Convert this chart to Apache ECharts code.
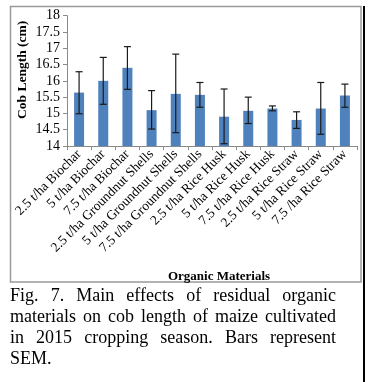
<!DOCTYPE html>
<html><head><meta charset="utf-8">
<script src="https://cdn.jsdelivr.net/npm/echarts@6/dist/echarts.min.js"></script>
<style>
html,body{margin:0;padding:0;background:#fff;}
#wrap{position:relative;width:374px;height:382px;overflow:hidden;}
#chart{position:absolute;left:0;top:0;width:374px;height:382px;}
#cap{position:absolute;left:10px;top:285px;width:326px;font-family:"Liberation Serif","Times New Roman",serif;font-size:18px;line-height:21px;text-align:justify;color:#000;}
#vline{position:absolute;left:363px;top:6px;width:2px;height:376px;background:#000;}
</style></head>
<body><div id="wrap"><div id="chart"></div><div id="cap">Fig. 7. Main effects of residual organic materials on cob length of maize cultivated in 2015 cropping season. Bars represent SEM.</div><div id="vline"></div></div>
<script>
const categories = ["2.5 t/ha Biochar","5 t/ha Biochar","7.5 t/ha Biochar","2.5 t/ha Groundnut Shells","5 t/ha Groundnut Shells","7.5 t/ha Groundnut Shells","2.5 t/ha Rice Husk","5 t/ha Rice Husk","7.5 t/ha Rice Husk","2.5 t/ha Rice Straw","5 t/ha Rice Straw","7.5 /ha Rice Straw"];
const means = [15.64, 16.0, 16.4, 15.1, 15.6, 15.57, 14.9, 15.08, 15.15, 14.8, 15.15, 15.55];
const errUpper = [16.28, 16.72, 17.05, 15.7, 16.82, 15.95, 15.75, 15.5, 15.23, 15.05, 15.95, 15.9];
const errLower = [14.99, 15.28, 15.74, 14.52, 14.41, 15.19, 14.07, 14.69, 15.08, 14.54, 14.36, 15.19];
const yTicks = {min: 14, max: 18, interval: 0.5};

const chart = echarts.init(document.getElementById('chart'), null, {renderer:'canvas'});
const serif = 'Liberation Serif';
chart.setOption({
  animation: false,
  textStyle: {fontFamily: serif},
  grid: {left: 67, right: 17, top: 15.7, bottom: 236, containLabel: false},
  graphic: [{type:'rect', shape:{x:10.5, y:6.5, width:350.5, height:275.5}, style:{fill:'none', stroke:'#9a9a9a', lineWidth:1.5}, z:-1}],
  xAxis: {
    type: 'category', data: categories,
    name: 'Organic Materials', nameLocation: 'middle', nameGap: 124, nameMoveOverlap: false,
    nameTextStyle: {fontFamily: serif, fontWeight: 'bold', fontSize: 13, color: '#000', padding:[0,0,0,14]},
    axisLine: {lineStyle: {color: '#8a8a8a', width: 1}},
    axisTick: {show: true, length: 4, lineStyle: {color: '#8a8a8a'}},
    axisLabel: {rotate: 45, interval: 0, fontFamily: serif, fontSize: 13.5, color: '#000', margin: 6}
  },
  yAxis: {
    type: 'value', min: yTicks.min, max: yTicks.max, interval: yTicks.interval,
    name: 'Cob Length (cm)', nameLocation: 'middle', nameGap: 37, nameMoveOverlap: false,
    nameTextStyle: {fontFamily: serif, fontWeight: 'bold', fontSize: 13.5, color: '#000', padding:[0,0,0,22]},
    axisLine: {show: true, lineStyle: {color: '#8a8a8a', width: 1}},
    axisTick: {show: true, length: 4, lineStyle: {color: '#8a8a8a'}},
    splitLine: {show: false},
    axisLabel: {fontFamily: serif, fontSize: 14, color: '#000', margin: 7}
  },
  series: [
    {type: 'bar', data: means, barWidth: 10, itemStyle: {color: '#4F81BD'}},
    {type: 'custom', data: categories.map((c,i)=>[i, errLower[i], errUpper[i]]),
     renderItem: function(params, api){
       const x = api.value(0);
       const lo = api.coord([x, api.value(1)]);
       const hi = api.coord([x, api.value(2)]);
       const w = 3.5;
       const st = {stroke:'#1a1a1a', lineWidth:1.2};
       return {type:'group', children:[
         {type:'line', shape:{x1:lo[0], y1:lo[1], x2:hi[0], y2:hi[1]}, style:st},
         {type:'line', shape:{x1:hi[0]-w, y1:hi[1], x2:hi[0]+w, y2:hi[1]}, style:st},
         {type:'line', shape:{x1:lo[0]-w, y1:lo[1], x2:lo[0]+w, y2:lo[1]}, style:st}
       ]};
     }, z: 10}
  ]
});
</script></body></html>
